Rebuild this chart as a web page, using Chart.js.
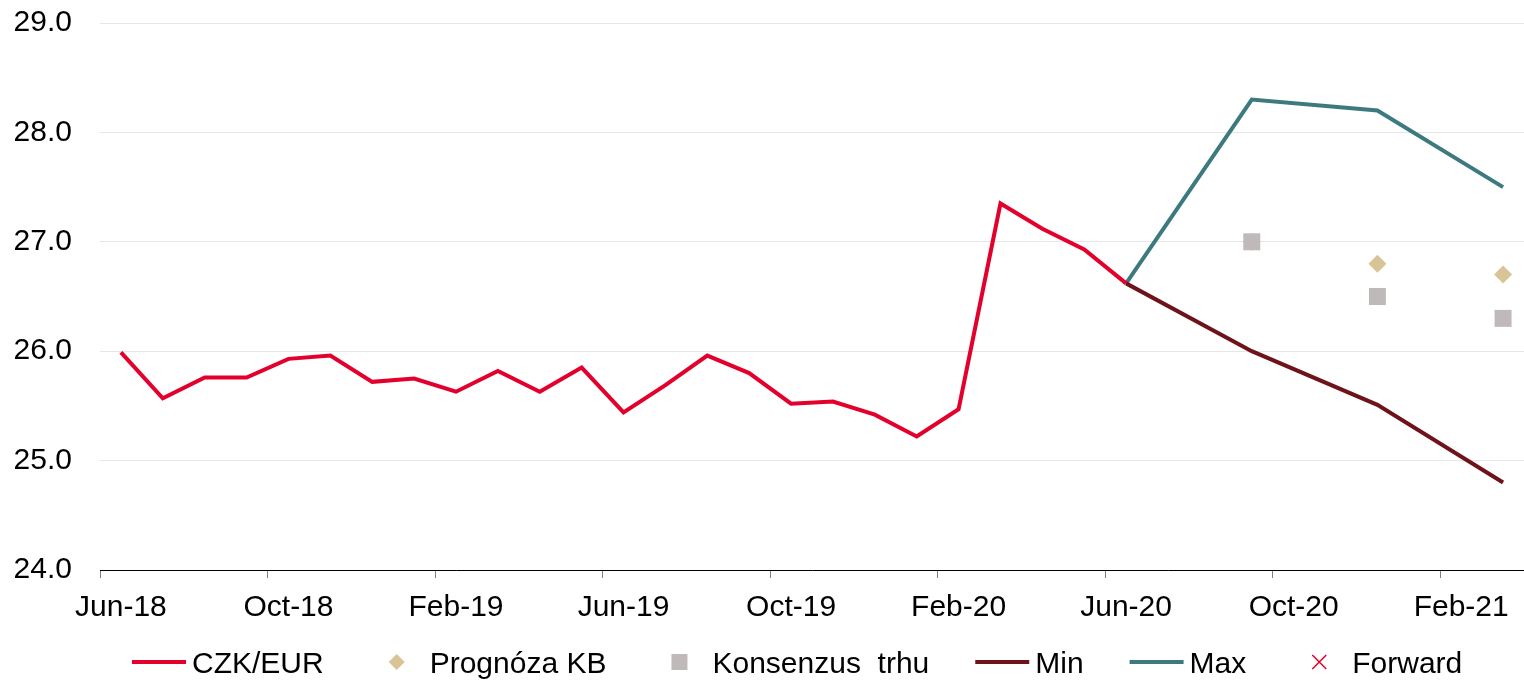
<!DOCTYPE html>
<html>
<head>
<meta charset="utf-8">
<script src="https://cdn.jsdelivr.net/npm/chart.js@4.4.1/dist/chart.umd.min.js"></script>
<style>
  html, body { margin: 0; padding: 0; background: #fff; overflow: hidden; }
  #wrap { width: 1524px; height: 680px; position: relative; }
</style>
</head>
<body>
<div id="wrap"><canvas id="chart"></canvas></div>
<script>
// monthly categories, only every 4th one gets a label
const months = [
  "Jun-18", "Jul-18", "Aug-18", "Sep-18", "Oct-18", "Nov-18", "Dec-18",
  "Jan-19", "Feb-19", "Mar-19", "Apr-19", "May-19", "Jun-19", "Jul-19",
  "Aug-19", "Sep-19", "Oct-19", "Nov-19", "Dec-19", "Jan-20", "Feb-20",
  "Mar-20", "Apr-20", "May-20", "Jun-20", "Jul-20", "Aug-20", "Sep-20",
  "Oct-20", "Nov-20", "Dec-20", "Jan-21", "Feb-21", "Mar-21",
];

// CZK/EUR history, Jun-18 .. Jun-20
const czkEur = [
  25.99, 25.57, 25.76, 25.76, 25.93, 25.96, 25.72, 25.75, 25.63, 25.82,
  25.63, 25.85, 25.44, 25.69, 25.96, 25.80, 25.52, 25.54, 25.42, 25.22,
  25.47, 27.35, 27.12, 26.93, 26.62,
];

// scenario paths start from the last actual value
const pathMonths = ["Jun-20", "Sep-20", "Dec-20", "Mar-21"];
const minPath = [26.62, 26.0, 25.51, 24.8];
const maxPath = [26.62, 28.3, 28.2, 27.5];

// quarterly forecasts
const forecastMonths = ["Sep-20", "Dec-20", "Mar-21"];
const kbForecast = [27.0, 26.8, 26.7];
const consensus = [27.0, 26.5, 26.3];
const forward = [];

const yTicks = [24, 25, 26, 27, 28, 29];

const RED = "#e3002c";
const TAN = "#d8c496";
const GREY = "#bfbab9";
const DARKRED = "#6e1319";
const TEAL = "#3d7a80";
const FONT = "'Liberation Sans', Arial, sans-serif";

function pairs(xs, ys) {
  return ys.map((y, i) => ({ x: xs[i], y: y }));
}

// legend drawn by hand so line and marker entries get Excel-like widths
const bottomLegend = {
  id: "bottomLegend",
  afterDraw(chart, args, opts) {
    const ctx = chart.ctx;
    ctx.save();
    ctx.font = "30px " + FONT;
    ctx.textBaseline = "alphabetic";
    let x = opts.left;
    const y = opts.y;
    for (const ds of chart.data.datasets) {
      const cx = x + 27;
      if (ds.legendSymbol === "line") {
        ctx.strokeStyle = ds.borderColor;
        ctx.lineWidth = 4;
        ctx.beginPath();
        ctx.moveTo(x, y);
        ctx.lineTo(x + 54, y);
        ctx.stroke();
      } else if (ds.legendSymbol === "diamond") {
        ctx.fillStyle = ds.backgroundColor;
        ctx.beginPath();
        ctx.moveTo(cx, y - 8);
        ctx.lineTo(cx + 8, y);
        ctx.lineTo(cx, y + 8);
        ctx.lineTo(cx - 8, y);
        ctx.closePath();
        ctx.fill();
      } else if (ds.legendSymbol === "square") {
        ctx.fillStyle = ds.backgroundColor;
        ctx.fillRect(cx - 8, y - 8, 16, 16);
      } else if (ds.legendSymbol === "cross") {
        ctx.strokeStyle = ds.borderColor;
        ctx.lineWidth = 1.5;
        ctx.beginPath();
        ctx.moveTo(cx - 7, y - 7);
        ctx.lineTo(cx + 7, y + 7);
        ctx.moveTo(cx + 7, y - 7);
        ctx.lineTo(cx - 7, y + 7);
        ctx.stroke();
      }
      ctx.fillStyle = "#000";
      ctx.fillText(ds.label, x + 60, y + 11);
      x += 60 + ctx.measureText(ds.label).width + 46;
    }
    ctx.restore();
  },
};

const datasets = [
  {
    label: "CZK/EUR",
    data: czkEur,
    borderColor: RED,
    borderWidth: 4,
    pointRadius: 0,
    order: 0,
    legendSymbol: "line",
  },
  {
    label: "Prognóza KB",
    data: pairs(forecastMonths, kbForecast),
    showLine: false,
    pointStyle: "rectRot",
    pointRadius: 9,
    backgroundColor: TAN,
    borderWidth: 0,
    order: 2,
    legendSymbol: "diamond",
  },
  {
    label: "Konsenzus  trhu",
    data: pairs(forecastMonths, consensus),
    showLine: false,
    pointStyle: "rect",
    pointRadius: 12,
    backgroundColor: GREY,
    borderWidth: 0,
    order: 1,
    legendSymbol: "square",
  },
  {
    label: "Min",
    data: pairs(pathMonths, minPath),
    borderColor: DARKRED,
    borderWidth: 4,
    pointRadius: 0,
    order: 0,
    legendSymbol: "line",
  },
  {
    label: "Max",
    data: pairs(pathMonths, maxPath),
    borderColor: TEAL,
    borderWidth: 4,
    pointRadius: 0,
    order: 0,
    legendSymbol: "line",
  },
  {
    label: "Forward",
    data: forward,
    showLine: false,
    pointStyle: "crossRot",
    borderColor: RED,
    legendSymbol: "cross",
  },
];

new Chart(document.getElementById("chart"), {
  type: "line",
  data: { labels: months, datasets: datasets },
  plugins: [bottomLegend],
  options: {
    responsive: true,
    maintainAspectRatio: false,
    animation: false,
    events: [],
    layout: { autoPadding: false, padding: { top: 23, left: 0, right: -4, bottom: 42 } },
    plugins: {
      legend: { display: false },
      tooltip: { enabled: false },
      bottomLegend: { left: 132, y: 662 },
    },
    scales: {
      x: {
        offset: true,
        border: { color: "#000", width: 1 },
        grid: {
          offset: true,
          drawOnChartArea: false,
          drawTicks: true,
          tickLength: 8,
          tickColor: (c) => (c.index % 4 === 0 ? "#808080" : "rgba(0,0,0,0)"),
        },
        afterFit: (scale) => { scale.paddingLeft = 0; scale.paddingRight = 0; },
        ticks: {
          autoSkip: false,
          maxRotation: 0,
          padding: 12,
          color: "#000",
          font: { family: FONT, size: 30 },
          callback: (v, i) => (i % 4 === 0 ? months[i] : ""),
        },
      },
      y: {
        min: yTicks[0],
        max: yTicks[yTicks.length - 1],
        border: { display: false },
        grid: { color: "#e6e6e6", lineWidth: 1, drawTicks: false },
        afterFit: (scale) => {
          scale.width = 100;
          scale.paddingTop = 0;
          scale.paddingBottom = 0;
        },
        afterBuildTicks: (scale) => { scale.ticks = yTicks.map((v) => ({ value: v })); },
        ticks: {
          padding: 28,
          color: "#000",
          font: { family: FONT, size: 30 },
          callback: (v) => v.toFixed(1),
        },
      },
    },
  },
});
</script>
</body>
</html>
